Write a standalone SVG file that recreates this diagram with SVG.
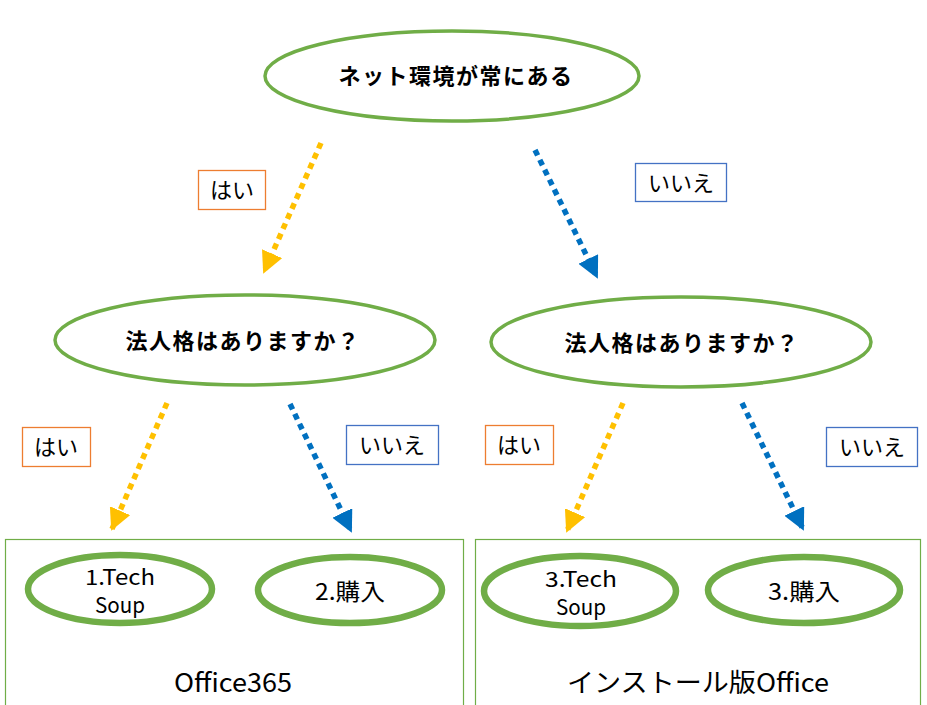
<svg xmlns="http://www.w3.org/2000/svg" width="927" height="705" viewBox="0 0 927 705">
<style>
.bg{fill:#ffffff}
.q{fill:#ffffff;stroke:#70AD47;stroke-width:3.5}
.r{fill:#ffffff;stroke:#70AD47;stroke-width:6.5}
.box{fill:none;stroke:#70AD47;stroke-width:1.2}
.t{font-family:"Noto Sans CJK JP","Liberation Sans",sans-serif;fill:#000}
.title{font-size:22px;font-weight:bold;letter-spacing:1.5px;text-anchor:middle}
.lbl{font-size:22px;text-anchor:middle}
.res{font-size:23px;text-anchor:middle}
.res2{font-size:21px;text-anchor:middle}
.grp{font-size:26px;text-anchor:middle}
.yes{fill:#ffffff;stroke:#ED7D31;stroke-width:1.3}
.no{fill:#ffffff;stroke:#4472C4;stroke-width:1.3}
.ay{stroke:#FFC000;stroke-width:5.5;stroke-dasharray:6 5;fill:none}
.ab{stroke:#0070C0;stroke-width:5.5;stroke-dasharray:6 5;fill:none}
</style>
<defs>
<marker id="hy" viewBox="0 0 22 22" refX="20" refY="11" markerWidth="22" markerHeight="22" markerUnits="userSpaceOnUse" orient="auto"><path d="M0,0 L22,11 L0,22 z" fill="#FFC000"/></marker>
<marker id="hb" viewBox="0 0 22 22" refX="20" refY="11" markerWidth="22" markerHeight="22" markerUnits="userSpaceOnUse" orient="auto"><path d="M0,0 L22,11 L0,22 z" fill="#0070C0"/></marker>
</defs>
<rect class="bg" x="0" y="0" width="927" height="705"/>

<g id="group-office365">
<rect class="box" x="5.5" y="539.5" width="458" height="170"/>
<text class="t grp" x="233" y="692" textLength="118" lengthAdjust="spacingAndGlyphs">Office365</text>
</g>
<g id="group-install">
<rect class="box" x="475.5" y="539.5" width="445" height="170"/>
<text class="t grp" x="698" y="692" textLength="262" lengthAdjust="spacingAndGlyphs">インストール版Office</text>
</g>

<g id="connectors">
<line class="ay" x1="321" y1="143" x2="264" y2="272" marker-end="url(#hy)"/>
<line class="ab" x1="535" y1="150" x2="597" y2="277" marker-end="url(#hb)"/>
<line class="ay" x1="167" y1="403" x2="112" y2="529" marker-end="url(#hy)"/>
<line class="ab" x1="290" y1="404" x2="351" y2="531" marker-end="url(#hb)"/>
<line class="ay" x1="623" y1="403" x2="567" y2="531" marker-end="url(#hy)"/>
<line class="ab" x1="742" y1="403" x2="803" y2="529" marker-end="url(#hb)"/>
</g>

<g id="q-net">
<ellipse class="q" cx="452" cy="76" rx="187" ry="45"/>
<text class="t title" x="456" y="84">ネット環境が常にある</text>
</g>
<g id="q-corp-left">
<ellipse class="q" cx="245" cy="340" rx="190" ry="45"/>
<text class="t title" x="243" y="349">法人格はありますか？</text>
</g>
<g id="q-corp-right">
<ellipse class="q" cx="681" cy="342" rx="190" ry="45"/>
<text class="t title" x="682" y="351">法人格はありますか？</text>
</g>

<g id="label-yes-top">
<rect class="yes" x="198.5" y="170.5" width="67" height="39"/>
<text class="t lbl" x="232" y="198">はい</text>
</g>
<g id="label-no-top">
<rect class="no" x="635.5" y="163.5" width="91" height="38"/>
<text class="t lbl" x="681" y="191">いいえ</text>
</g>
<g id="label-yes-left">
<rect class="yes" x="22.5" y="427.5" width="68" height="39"/>
<text class="t lbl" x="56" y="455">はい</text>
</g>
<g id="label-no-left">
<rect class="no" x="346.5" y="425.5" width="92" height="39"/>
<text class="t lbl" x="392" y="453">いいえ</text>
</g>
<g id="label-yes-right">
<rect class="yes" x="485.5" y="425.5" width="68" height="39"/>
<text class="t lbl" x="519" y="453">はい</text>
</g>
<g id="label-no-right">
<rect class="no" x="826.5" y="427.5" width="91" height="39"/>
<text class="t lbl" x="872" y="455">いいえ</text>
</g>

<g id="r-techsoup-1">
<ellipse class="r" cx="120" cy="589" rx="92" ry="34"/>
<text class="t res2" x="120" y="585" textLength="70" lengthAdjust="spacingAndGlyphs">1.Tech</text>
<text class="t res2" x="120" y="613" textLength="50" lengthAdjust="spacingAndGlyphs">Soup</text>
</g>
<g id="r-buy-2">
<ellipse class="r" cx="350" cy="590" rx="92" ry="33"/>
<text class="t res" x="350" y="600" textLength="70" lengthAdjust="spacingAndGlyphs">2.購入</text>
</g>
<g id="r-techsoup-3">
<ellipse class="r" cx="580" cy="591" rx="96" ry="35"/>
<text class="t res2" x="581" y="587" textLength="72" lengthAdjust="spacingAndGlyphs">3.Tech</text>
<text class="t res2" x="581" y="615" textLength="50" lengthAdjust="spacingAndGlyphs">Soup</text>
</g>
<g id="r-buy-3">
<ellipse class="r" cx="804" cy="590" rx="96" ry="33"/>
<text class="t res" x="804" y="600" textLength="72" lengthAdjust="spacingAndGlyphs">3.購入</text>
</g>
</svg>
